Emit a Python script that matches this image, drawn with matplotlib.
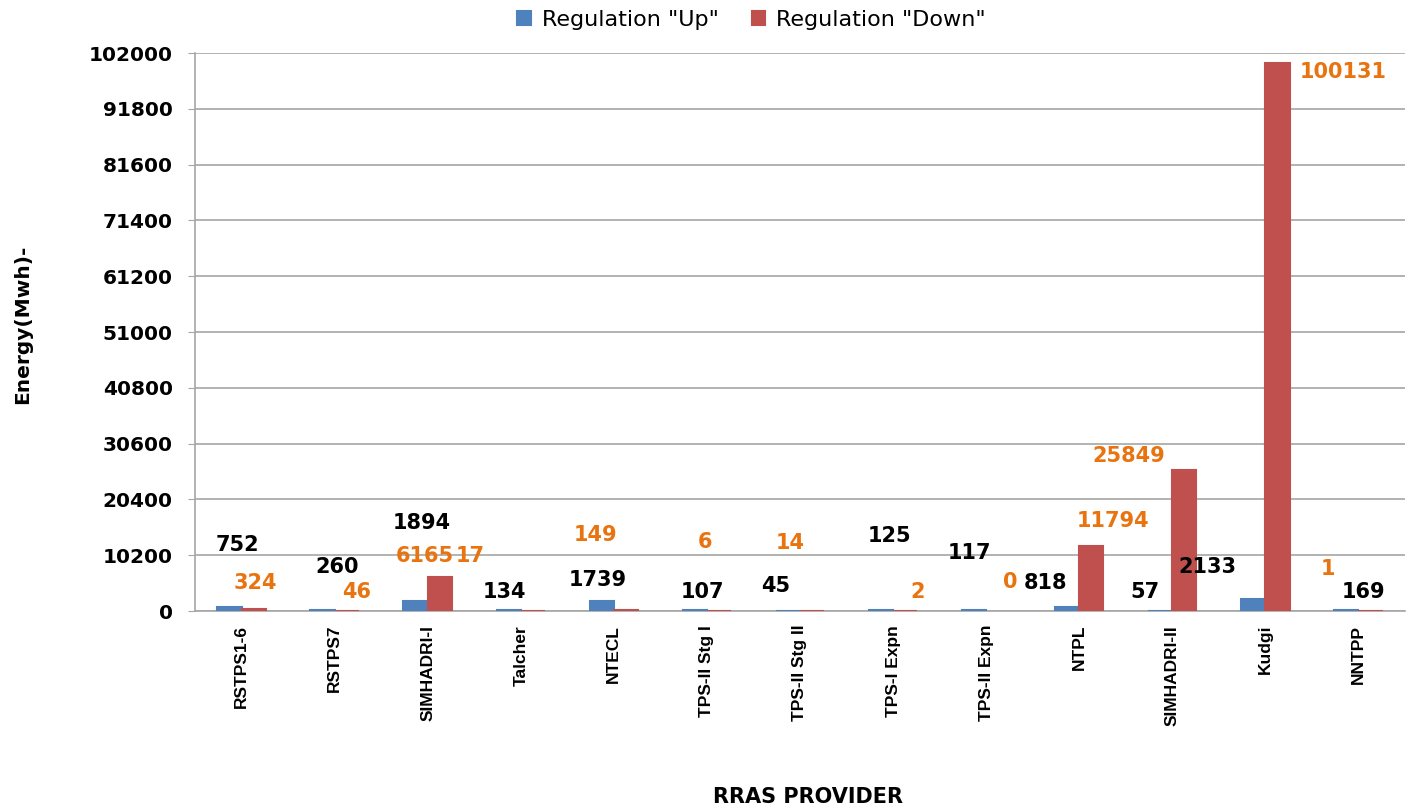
import numpy as np
import matplotlib
matplotlib.use("Agg")
import matplotlib.pyplot as plt

# data
providers = ['RSTPS1-6', 'RSTPS7', 'SIMHADRI-I', 'Talcher', 'NTECL', 'TPS-II Stg I',
             'TPS-II Stg II', 'TPS-I Expn', 'TPS-II Expn', 'NTPL', 'SIMHADRI-II',
             'Kudgi', 'NNTPP']
reg_up = [752, 260, 1894, 134, 1739, 107, 45, 125, 117, 818, 57, 2133, 169]
reg_down = [324, 46, 6165, 17, 149, 6, 14, 2, 0, 11794, 25849, 100131, 1]
yticks = np.arange(0, 102001, 10200)

# label offsets (pixels) from the top of each bar, as placed in the original
up_off = [(8, 62), (15, 43), (6, 78), (-4, 18), (-4, 21), (8, 18), (-12, 25),
          (9, 74), (-5, 57), (-22, 24), (-15, 19), (-46, 32), (17, 18)]
down_off = [(2, 26), (10, 19), (-15, 21), (-63, 55), (-30, 75), (-14, 69), (-22, 68),
            (12, 19), (12, 29), (22, 25), (-56, 14), (66, -9), (-43, 42)]

blue = '#4F81BD'
red = '#C0504D'
orange = '#E8730F'
grid = '#A6A6A6'

fig = plt.figure(figsize=(14.13, 8.11), dpi=100)
ax = fig.add_axes([0.138, 0.2466, 0.8563, 0.688])

x = np.arange(len(providers))
w = 0.26
ec_up = [blue if v > 0 else 'none' for v in reg_up]
ec_down = [red if v > 0 else 'none' for v in reg_down]
b1 = ax.bar(x - w / 2, reg_up, w, color=blue, edgecolor=ec_up, linewidth=1.5,
            label='Regulation "Up"', zorder=3)
b2 = ax.bar(x + w / 2, reg_down, w, color=red, edgecolor=ec_down, linewidth=1.5,
            label='Regulation "Down"', zorder=3)

for i in range(len(providers)):
    ax.annotate(str(reg_up[i]), (x[i] - w / 2, reg_up[i]), xytext=up_off[i],
                textcoords='offset pixels', ha='center', va='center',
                fontsize=15, fontweight='bold', color='black', zorder=5)
    ax.annotate(str(reg_down[i]), (x[i] + w / 2, reg_down[i]), xytext=down_off[i],
                textcoords='offset pixels', ha='center', va='center',
                fontsize=15, fontweight='bold', color=orange, zorder=5)

ax.set_xlim(-0.5, len(providers) - 0.5)
ax.set_ylim(0, 102000)
ax.set_yticks(yticks)
ax.set_yticklabels([str(v) for v in yticks], fontsize=14.5, fontweight='bold')
ax.set_xticks(x)
ax.set_xticklabels(providers, rotation=90, fontsize=12.5, fontweight='bold',
                   family='Liberation Sans')
ax.tick_params(axis='x', length=0, pad=10)
ax.tick_params(axis='y', length=5, color=grid, pad=11)

ax.yaxis.grid(True, color=grid, linewidth=1.2, zorder=0)
ax.set_axisbelow(True)
for s in ['top', 'right']:
    ax.spines[s].set_visible(False)
for s in ['left', 'bottom']:
    ax.spines[s].set_color(grid)
    ax.spines[s].set_linewidth(1.2)

fig.text(0.016, 0.60, 'Energy(Mwh)-', rotation=90, ha='center', va='center',
         fontsize=14.5, fontweight='bold')
fig.text(0.572, 0.017, 'RRAS PROVIDER', ha='center', va='center',
         fontsize=15, fontweight='bold')

fig.legend(handles=[b1, b2], loc='center', bbox_to_anchor=(0.532, 0.975), ncol=2,
           frameon=False, fontsize=16, handlelength=0.6, handleheight=0.6,
           handletextpad=0.5, columnspacing=1.5)

fig.savefig('out.png', dpi=100)
